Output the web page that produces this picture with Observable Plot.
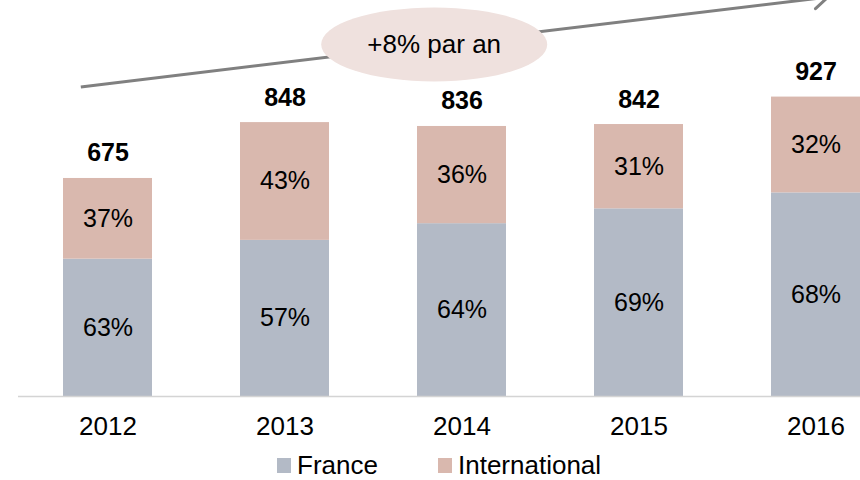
<!DOCTYPE html>
<html>
<head>
<meta charset="utf-8">
<script src="https://cdn.jsdelivr.net/npm/d3@7"></script>
<script src="https://cdn.jsdelivr.net/npm/@observablehq/plot@0.6"></script>
<style>
  html, body { margin: 0; padding: 0; background: #fff; }
  body { width: 860px; height: 480px; overflow: hidden; font-family: "Liberation Sans", Arial, sans-serif; }
  #legend { position: relative; height: 30px; font-size: 26px; color: #000; }
  #legend .item { position: absolute; top: 0; height: 30px; display: flex; align-items: center; }
  #legend .sw { width: 14px; height: 15px; margin-right: 6px; }
</style>
</head>
<body>
<div id="chart"></div>
<div id="legend"></div>
<script>
const years = ["2012", "2013", "2014", "2015", "2016"];
const totals = [675, 848, 836, 842, 927];
const francePct = [63, 57, 64, 69, 68];
const intlPct = [37, 43, 36, 31, 32];
const series = ["France", "International"];
const colors = ["#b3bac6", "#d9b8ae"];
const growthLabel = "+8% par an";

// stacked rows built from the arrays above
const rows = years.flatMap((year, i) => {
  const f = totals[i] * francePct[i] / 100;
  const n = totals[i] * intlPct[i] / 100;
  return [
    {year, series: "France", value: f, mid: f / 2, pct: francePct[i]},
    {year, series: "International", value: n, mid: f + n / 2, pct: intlPct[i]}
  ];
});
const totalRows = years.map((year, i) => ({year, total: totals[i]}));

const font = "Liberation Sans, Arial, sans-serif";

const chart = Plot.plot({
  width: 860,
  height: 450,
  marginTop: 0,
  marginLeft: 18,
  marginRight: 0,
  marginBottom: 54,
  style: {fontFamily: font, background: "#fff", overflow: "hidden"},
  x: {type: "band", domain: years, range: [17.75, 905], paddingInner: 0.5, paddingOuter: 0.25, label: null},
  y: {domain: [0, 1226], axis: null},
  color: {domain: series, range: colors},
  marks: [
    Plot.barY(rows, {x: "year", y: "value", fill: "series"}),
    Plot.ruleY([0], {stroke: "#d4d4d4", strokeWidth: 1.5}),
    Plot.text(rows, {x: "year", y: "mid", text: d => d.pct + "%", fontSize: 25, fill: "#000"}),
    Plot.text(totalRows, {x: "year", y: "total", text: d => String(d.total), dy: -25, fontSize: 25, fontWeight: "bold", fill: "#000"}),
    Plot.axisX({tickSize: 0, tickPadding: 20, fontSize: 26, fill: "#000", label: null})
  ]
});
document.getElementById("chart").appendChild(chart);

// growth annotation (arrow + ellipse), positioned with the chart scales
const xs = chart.scale("x"), ys = chart.scale("y");
const bw = xs.bandwidth;
const arrow = {from: {year: "2012", frac: 0.2, value: 957}, to: {year: "2016", frac: 0.64, value: 1235}};
const ellipse = {t: 0.473, rx: 113, ry: 37, fill: "#efe1de"};
const p1 = [xs.apply(arrow.from.year) + arrow.from.frac * bw, ys.apply(arrow.from.value)];
const p2 = [xs.apply(arrow.to.year) + arrow.to.frac * bw, ys.apply(arrow.to.value)];
const svg = d3.select(chart);
const g = svg.append("g");
g.append("line").attr("x1", p1[0]).attr("y1", p1[1]).attr("x2", p2[0]).attr("y2", p2[1])
  .attr("stroke", "#808080").attr("stroke-width", 3);
const ang = Math.atan2(p2[1] - p1[1], p2[0] - p1[0]);
const head = 17, spread = 36 * Math.PI / 180;
[1, -1].forEach(s => {
  const a = ang + Math.PI + s * spread;
  g.append("line").attr("x1", p2[0]).attr("y1", p2[1])
    .attr("x2", p2[0] + head * Math.cos(a)).attr("y2", p2[1] + head * Math.sin(a))
    .attr("stroke", "#808080").attr("stroke-width", 3).attr("stroke-linecap", "round");
});
const cx = p1[0] + ellipse.t * (p2[0] - p1[0]);
const cy = p1[1] + ellipse.t * (p2[1] - p1[1]);
g.append("ellipse").attr("cx", cx).attr("cy", cy).attr("rx", ellipse.rx).attr("ry", ellipse.ry).attr("fill", ellipse.fill);
g.append("text").attr("x", cx).attr("y", cy).attr("text-anchor", "middle").attr("dominant-baseline", "central")
  .attr("font-size", 26).attr("font-family", font).attr("fill", "#000").text(growthLabel);

// legend, anchored under the 2013 / 2014 columns
const legend = d3.select("#legend");
const legendX = [xs.apply("2013") + 37, xs.apply("2014") + 21];
series.forEach((s, i) => {
  const it = legend.append("div").attr("class", "item").style("left", legendX[i] + "px");
  it.append("div").attr("class", "sw").style("background", colors[i]);
  it.append("span").text(s);
});
</script>
</body>
</html>
